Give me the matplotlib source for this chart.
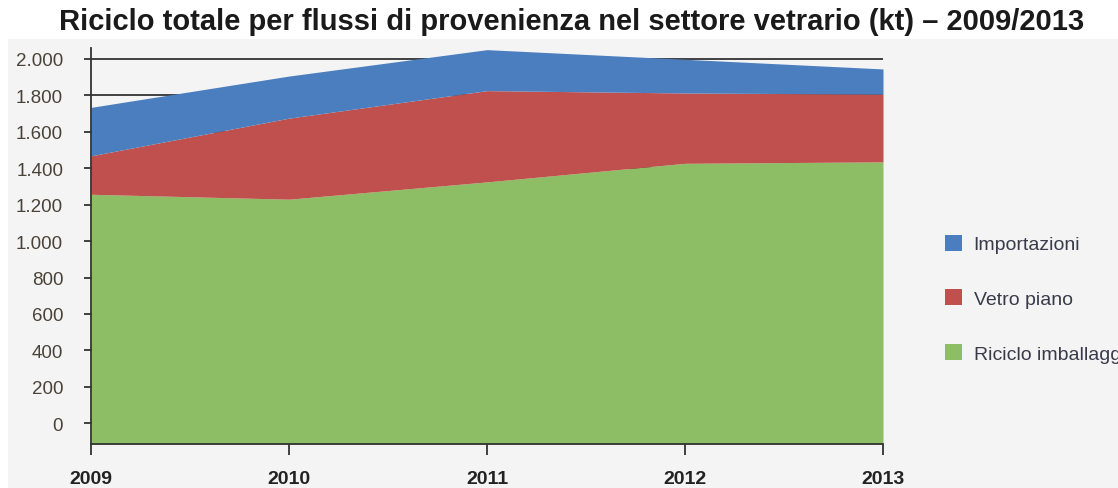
import matplotlib
matplotlib.use("Agg")
import matplotlib.pyplot as plt
import numpy as np
from matplotlib.patches import Rectangle, Patch

years = [2009, 2010, 2011, 2012, 2013]
riciclo_imballaggi = [1257, 1230, 1325, 1427, 1435]
vetro_piano = [211, 445, 501, 386, 372]
importazioni = [266, 231, 225, 185, 138]
series_names = ["Riciclo imballaggi", "Vetro piano", "Importazioni"]
colors = ["#8dbe65", "#c0504d", "#4a7ebf"]
yticks = [0, 200, 400, 600, 800, 1000, 1200, 1400, 1600, 1800, 2000]
ytick_labels = ["0", "200", "400", "600", "800", "1.000", "1.200", "1.400", "1.600", "1.800", "2.000"]
title = "Riciclo totale per flussi di provenienza nel settore vetrario (kt) – 2009/2013"

W, H = 1118, 489
fig = plt.figure(figsize=(W / 100, H / 100), dpi=100)
fig.patch.set_facecolor("white")
fig.add_artist(Rectangle((8 / W, 0), 1 - 8 / W, 1 - 40 / H, transform=fig.transFigure,
                         facecolor="#f4f4f4", edgecolor="none", zorder=0))

ymin, ymax = -114, 2060
ax = fig.add_axes([91 / W, 1 - 445 / H, (883 - 91) / W, (445 - 49) / H])
ax.set_facecolor("none")

s1 = np.array(riciclo_imballaggi)
s2 = s1 + np.array(vetro_piano)
s3 = s2 + np.array(importazioni)
ax.fill_between(years, ymin, s1, color=colors[0], lw=0, zorder=2)
ax.fill_between(years, s1, s2, color=colors[1], lw=0, zorder=2)
ax.fill_between(years, s2, s3, color=colors[2], lw=0, zorder=2)

ax.set_xlim(2009, 2013)
ax.set_ylim(ymin, ymax)
for t in yticks:
    ax.axhline(t, color="#333333", lw=1.3, zorder=1)
ax.set_yticks(yticks)
ax.set_yticklabels(ytick_labels)
ax.set_xticks(years)
ax.set_xticklabels([str(y) for y in years])
fam = ["Liberation Sans Narrow", "Liberation Sans", "DejaVu Sans"]
for lab in ax.get_yticklabels():
    lab.set_family(fam)
    lab.set_fontsize(13.5)
    lab.set_color("#4a4238")
for lab in ax.get_xticklabels():
    lab.set_family(fam)
    lab.set_fontsize(14)
    lab.set_fontweight("bold")
    lab.set_color("#222222")
ax.tick_params(axis="y", length=5, width=1.3, color="#333333", pad=15)
ax.tick_params(axis="x", length=8, width=1.3, color="#333333", pad=11)
for s in ["top", "right"]:
    ax.spines[s].set_visible(False)
for s in ["left", "bottom"]:
    ax.spines[s].set_color("#333333")
    ax.spines[s].set_linewidth(1.3)
ax.spines["left"].set_zorder(3)
ax.spines["bottom"].set_zorder(3)

fig.text(572 / W, 1 - 22 / H, title, ha="center", va="center",
         fontsize=21, fontweight="bold", family=["Liberation Sans", "DejaVu Sans"], color="#1a1a1a")

handles = [Patch(facecolor=colors[2]), Patch(facecolor=colors[1]), Patch(facecolor=colors[0])]
labels = ["Importazioni", "Vetro piano", "Riciclo imballaggi"]
leg = fig.legend(handles, labels, loc="upper left", bbox_to_anchor=(927 / W, 1 - 218 / H),
                 frameon=False, prop={"family": fam, "size": 14},
                 handlelength=0.9, handleheight=0.9, labelspacing=1.85, handletextpad=0.6)
for t in leg.get_texts():
    t.set_color("#3a3a4a")

fig.savefig("out.png", dpi=100)
